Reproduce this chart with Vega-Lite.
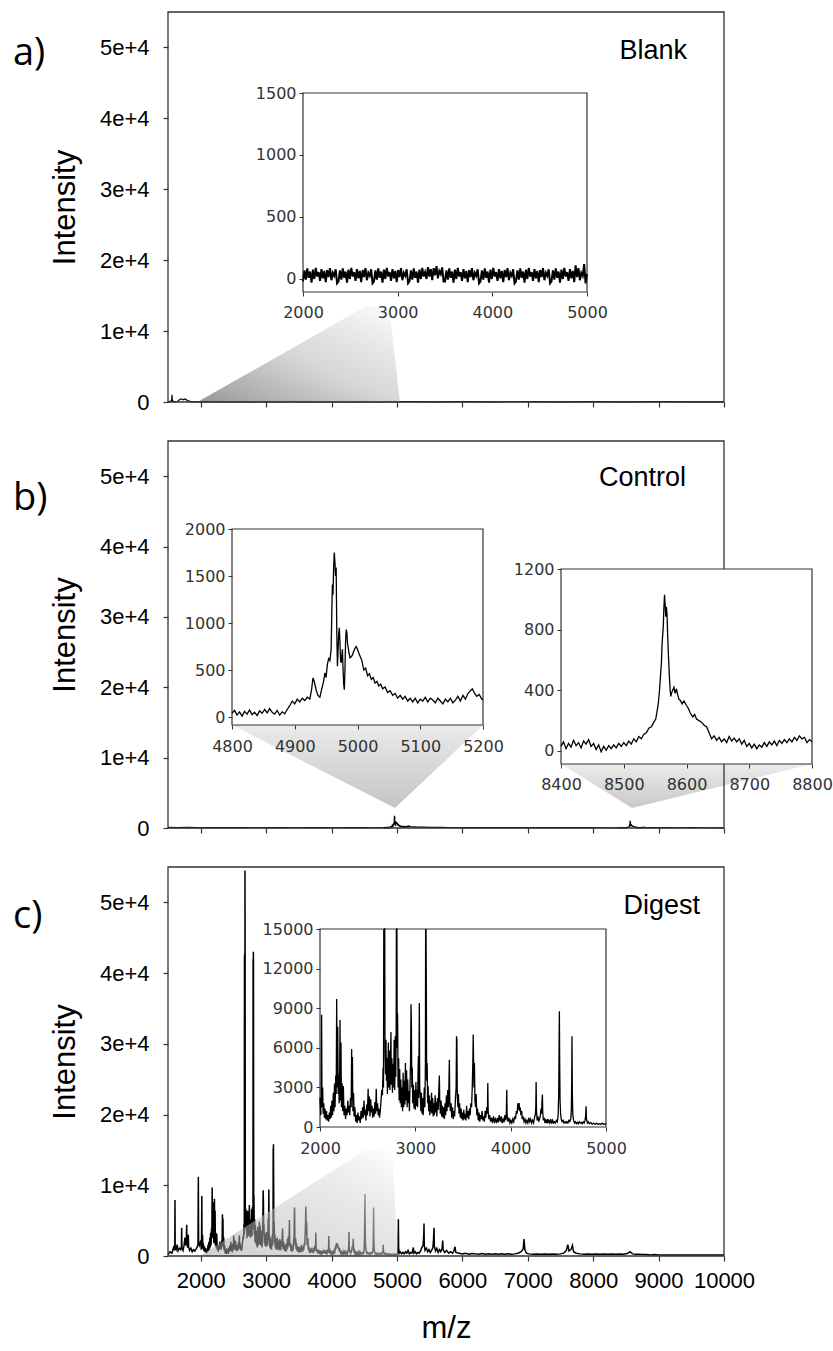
{
"$schema":"https://vega.github.io/schema/vega-lite/v6.json",
"width":556,"height":1244,
"autosize":{"type":"none"},
"padding":{"left":168,"top":12,"right":109,"bottom":95},
"background":"white",
"config":{"view":{"stroke":null},"axis":{"grid":false,"labelFlush":false,"labelOverlap":false}},
"datasets":{
"blank":[{"m":1500,"i":0},{"m":1530,"i":80},{"m":1555,"i":150},{"m":1561,"i":1000},{"m":1567,"i":150},{"m":1600,"i":60},{"m":1650,"i":100},{"m":1680,"i":350},{"m":1700,"i":450},{"m":1730,"i":300},{"m":1760,"i":420},{"m":1800,"i":200},{"m":1840,"i":100},{"m":1900,"i":50},{"m":1950,"i":30},
{"m":2000,"i":-20},{"m":2015,"i":70},{"m":2030,"i":-5},{"m":2045,"i":85},{"m":2060,"i":10},{"m":2075,"i":60},{"m":2090,"i":-30},{"m":2105,"i":75},{"m":2120,"i":0},{"m":2135,"i":90},{"m":2150,"i":20},{"m":2165,"i":55},{"m":2180,"i":-15},{"m":2195,"i":80},{"m":2210,"i":5},{"m":2225,"i":65},{"m":2240,"i":-25},{"m":2255,"i":72},{"m":2270,"i":15},{"m":2285,"i":88},{"m":2300,"i":-10},{"m":2315,"i":50},{"m":2330,"i":25},{"m":2345,"i":78},{"m":2360,"i":-35},
{"m":2375,"i":-20},{"m":2390,"i":70},{"m":2405,"i":-5},{"m":2420,"i":85},{"m":2435,"i":10},{"m":2450,"i":60},{"m":2465,"i":-30},{"m":2480,"i":75},{"m":2495,"i":0},{"m":2510,"i":90},{"m":2525,"i":20},{"m":2540,"i":55},{"m":2555,"i":-15},{"m":2570,"i":80},{"m":2585,"i":5},{"m":2600,"i":65},{"m":2615,"i":-25},{"m":2630,"i":72},{"m":2645,"i":15},{"m":2660,"i":88},{"m":2675,"i":-10},{"m":2690,"i":50},{"m":2705,"i":25},{"m":2720,"i":78},{"m":2735,"i":-35},
{"m":2750,"i":-20},{"m":2765,"i":70},{"m":2780,"i":-5},{"m":2795,"i":85},{"m":2810,"i":10},{"m":2825,"i":60},{"m":2840,"i":-30},{"m":2855,"i":75},{"m":2870,"i":0},{"m":2885,"i":90},{"m":2900,"i":20},{"m":2915,"i":55},{"m":2930,"i":-15},{"m":2945,"i":80},{"m":2960,"i":5},{"m":2975,"i":65},{"m":2990,"i":-25},{"m":3005,"i":72},{"m":3020,"i":15},{"m":3035,"i":88},{"m":3050,"i":-10},{"m":3065,"i":50},{"m":3080,"i":25},{"m":3095,"i":78},{"m":3110,"i":-35},
{"m":3125,"i":-20},{"m":3140,"i":70},{"m":3155,"i":-5},{"m":3170,"i":85},{"m":3185,"i":10},{"m":3200,"i":60},{"m":3215,"i":-30},{"m":3230,"i":75},{"m":3245,"i":0},{"m":3260,"i":90},{"m":3275,"i":20},{"m":3290,"i":55},{"m":3305,"i":0},{"m":3320,"i":95},{"m":3335,"i":20},{"m":3350,"i":80},{"m":3365,"i":-10},{"m":3380,"i":87},{"m":3395,"i":30},{"m":3410,"i":103},{"m":3425,"i":5},{"m":3440,"i":65},{"m":3455,"i":40},{"m":3470,"i":93},{"m":3485,"i":-20},
{"m":3500,"i":-20},{"m":3515,"i":70},{"m":3530,"i":-5},{"m":3545,"i":85},{"m":3560,"i":10},{"m":3575,"i":60},{"m":3590,"i":-30},{"m":3605,"i":75},{"m":3620,"i":0},{"m":3635,"i":90},{"m":3650,"i":20},{"m":3665,"i":55},{"m":3680,"i":-15},{"m":3695,"i":80},{"m":3710,"i":5},{"m":3725,"i":65},{"m":3740,"i":-25},{"m":3755,"i":72},{"m":3770,"i":15},{"m":3785,"i":88},{"m":3800,"i":-10},{"m":3815,"i":50},{"m":3830,"i":25},{"m":3845,"i":78},{"m":3860,"i":-35},
{"m":3875,"i":-20},{"m":3890,"i":70},{"m":3905,"i":-5},{"m":3920,"i":85},{"m":3935,"i":10},{"m":3950,"i":60},{"m":3965,"i":-30},{"m":3980,"i":75},{"m":3995,"i":0},{"m":4010,"i":90},{"m":4025,"i":20},{"m":4040,"i":55},{"m":4055,"i":-15},{"m":4070,"i":80},{"m":4085,"i":5},{"m":4100,"i":65},{"m":4115,"i":-25},{"m":4130,"i":72},{"m":4145,"i":15},{"m":4160,"i":88},{"m":4175,"i":-10},{"m":4190,"i":50},{"m":4205,"i":25},{"m":4220,"i":78},{"m":4235,"i":-35},
{"m":4250,"i":-20},{"m":4265,"i":70},{"m":4280,"i":-5},{"m":4295,"i":85},{"m":4310,"i":10},{"m":4325,"i":60},{"m":4340,"i":-30},{"m":4355,"i":75},{"m":4370,"i":0},{"m":4385,"i":90},{"m":4400,"i":20},{"m":4415,"i":55},{"m":4430,"i":-15},{"m":4445,"i":80},{"m":4460,"i":5},{"m":4475,"i":65},{"m":4490,"i":-25},{"m":4505,"i":72},{"m":4520,"i":15},{"m":4535,"i":88},{"m":4550,"i":-10},{"m":4565,"i":50},{"m":4580,"i":25},{"m":4595,"i":78},{"m":4610,"i":-35},
{"m":4625,"i":-20},{"m":4640,"i":70},{"m":4655,"i":-5},{"m":4670,"i":85},{"m":4685,"i":10},{"m":4700,"i":60},{"m":4715,"i":-30},{"m":4730,"i":75},{"m":4745,"i":0},{"m":4760,"i":90},{"m":4775,"i":20},{"m":4790,"i":55},{"m":4805,"i":-15},{"m":4820,"i":80},{"m":4835,"i":5},{"m":4850,"i":65},{"m":4865,"i":-25},{"m":4880,"i":110},{"m":4895,"i":15},{"m":4910,"i":88},{"m":4925,"i":-10},{"m":4940,"i":50},{"m":4955,"i":25},{"m":4970,"i":120},{"m":4985,"i":-35},{"m":5000,"i":40},
{"m":5200,"i":40},{"m":5600,"i":30},{"m":6000,"i":50},{"m":6500,"i":30},{"m":7000,"i":40},{"m":7500,"i":30},{"m":8000,"i":40},{"m":8500,"i":30},{"m":9000,"i":40},{"m":9500,"i":30},{"m":10000,"i":30}],
"control":[{"m":1500,"i":100},{"m":1650,"i":60},{"m":1800,"i":80},{"m":1950,"i":50},{"m":2100,"i":70},{"m":2250,"i":40},{"m":2400,"i":60},{"m":2550,"i":40},{"m":2700,"i":55},{"m":2850,"i":35},{"m":3000,"i":50},{"m":3150,"i":40},{"m":3300,"i":55},{"m":3450,"i":35},{"m":3600,"i":50},{"m":3750,"i":40},{"m":3900,"i":45},{"m":4050,"i":35},{"m":4200,"i":50},{"m":4350,"i":40},{"m":4500,"i":45},{"m":4650,"i":35},{"m":4790,"i":40},
{"m":4800,"i":40},{"m":4804,"i":70},{"m":4808,"i":20},{"m":4812,"i":55},{"m":4816,"i":10},{"m":4820,"i":60},{"m":4824,"i":30},{"m":4828,"i":75},{"m":4832,"i":25},{"m":4836,"i":50},{"m":4840,"i":15},{"m":4844,"i":65},{"m":4848,"i":40},{"m":4852,"i":80},{"m":4856,"i":45},{"m":4860,"i":90},{"m":4864,"i":50},{"m":4868,"i":30},{"m":4872,"i":70},{"m":4876,"i":20},{"m":4880,"i":55},{"m":4884,"i":35},{"m":4888,"i":80},{"m":4892,"i":120},{"m":4896,"i":170},{"m":4900,"i":140},{"m":4904,"i":190},{"m":4908,"i":160},{"m":4912,"i":200},{"m":4916,"i":175},{"m":4920,"i":210},{"m":4924,"i":190},{"m":4927,"i":300},{"m":4929,"i":415},{"m":4931,"i":380},{"m":4934,"i":290},{"m":4937,"i":230},{"m":4940,"i":210},{"m":4943,"i":300},{"m":4946,"i":380},{"m":4948,"i":470},{"m":4950,"i":420},{"m":4952,"i":560},{"m":4954,"i":620},{"m":4956,"i":600},{"m":4958,"i":720},{"m":4959,"i":1100},{"m":4960,"i":1410},{"m":4961,"i":1300},{"m":4962,"i":1600},{"m":4963,"i":1750},{"m":4964,"i":1650},{"m":4965,"i":1500},{"m":4966,"i":1590},{"m":4967,"i":900},{"m":4968,"i":540},{"m":4969,"i":700},{"m":4970,"i":880},{"m":4971,"i":950},{"m":4972,"i":800},{"m":4973,"i":600},{"m":4974,"i":575},{"m":4975,"i":650},{"m":4976,"i":720},{"m":4977,"i":500},{"m":4978,"i":350},{"m":4979,"i":290},{"m":4980,"i":500},{"m":4981,"i":800},{"m":4982,"i":930},{"m":4983,"i":900},{"m":4984,"i":790},{"m":4986,"i":700},{"m":4988,"i":630},{"m":4990,"i":640},{"m":4992,"i":660},{"m":4994,"i":700},{"m":4996,"i":730},{"m":4998,"i":750},{"m":5000,"i":720},{"m":5002,"i":680},{"m":5004,"i":650},{"m":5007,"i":600},{"m":5010,"i":500},{"m":5013,"i":520},{"m":5016,"i":440},{"m":5019,"i":460},{"m":5022,"i":400},{"m":5025,"i":420},{"m":5028,"i":360},{"m":5031,"i":380},{"m":5034,"i":330},{"m":5037,"i":350},{"m":5040,"i":300},{"m":5044,"i":320},{"m":5048,"i":260},{"m":5052,"i":280},{"m":5056,"i":230},{"m":5060,"i":250},{"m":5064,"i":200},{"m":5068,"i":230},{"m":5072,"i":190},{"m":5076,"i":220},{"m":5080,"i":170},{"m":5084,"i":200},{"m":5088,"i":160},{"m":5092,"i":200},{"m":5096,"i":150},{"m":5100,"i":190},{"m":5104,"i":170},{"m":5108,"i":210},{"m":5112,"i":160},{"m":5116,"i":200},{"m":5120,"i":180},{"m":5124,"i":150},{"m":5128,"i":200},{"m":5132,"i":170},{"m":5136,"i":140},{"m":5140,"i":190},{"m":5144,"i":160},{"m":5148,"i":200},{"m":5152,"i":150},{"m":5156,"i":180},{"m":5160,"i":220},{"m":5164,"i":170},{"m":5168,"i":230},{"m":5172,"i":190},{"m":5176,"i":250},{"m":5180,"i":280},{"m":5183,"i":300},{"m":5186,"i":260},{"m":5190,"i":220},{"m":5194,"i":240},{"m":5198,"i":190},{"m":5200,"i":185},
{"m":5250,"i":180},{"m":5300,"i":150},{"m":5400,"i":120},{"m":5500,"i":100},{"m":5650,"i":80},{"m":5800,"i":70},{"m":6000,"i":60},{"m":6200,"i":50},{"m":6400,"i":45},{"m":6600,"i":50},{"m":6800,"i":40},{"m":7000,"i":45},{"m":7200,"i":40},{"m":7400,"i":50},{"m":7600,"i":40},{"m":7800,"i":45},{"m":8000,"i":40},{"m":8200,"i":35},{"m":8390,"i":30},
{"m":8400,"i":30},{"m":8404,"i":60},{"m":8408,"i":15},{"m":8412,"i":50},{"m":8416,"i":25},{"m":8420,"i":70},{"m":8424,"i":35},{"m":8428,"i":55},{"m":8432,"i":20},{"m":8436,"i":65},{"m":8440,"i":45},{"m":8444,"i":75},{"m":8448,"i":30},{"m":8452,"i":50},{"m":8456,"i":10},{"m":8460,"i":40},{"m":8464,"i":-5},{"m":8468,"i":30},{"m":8472,"i":5},{"m":8476,"i":35},{"m":8480,"i":15},{"m":8484,"i":40},{"m":8488,"i":20},{"m":8492,"i":50},{"m":8496,"i":30},{"m":8500,"i":55},{"m":8504,"i":35},{"m":8508,"i":65},{"m":8512,"i":45},{"m":8516,"i":80},{"m":8520,"i":60},{"m":8524,"i":95},{"m":8528,"i":80},{"m":8532,"i":110},{"m":8536,"i":120},{"m":8540,"i":150},{"m":8544,"i":160},{"m":8548,"i":190},{"m":8551,"i":210},{"m":8553,"i":260},{"m":8555,"i":310},{"m":8557,"i":400},{"m":8559,"i":520},{"m":8560,"i":580},{"m":8561,"i":700},{"m":8562,"i":760},{"m":8563,"i":820},{"m":8564,"i":950},{"m":8565,"i":1030},{"m":8566,"i":960},{"m":8567,"i":885},{"m":8568,"i":950},{"m":8569,"i":900},{"m":8570,"i":760},{"m":8571,"i":650},{"m":8572,"i":560},{"m":8573,"i":470},{"m":8574,"i":400},{"m":8575,"i":360},{"m":8576,"i":380},{"m":8578,"i":400},{"m":8580,"i":420},{"m":8582,"i":380},{"m":8584,"i":410},{"m":8586,"i":370},{"m":8588,"i":340},{"m":8590,"i":335},{"m":8593,"i":310},{"m":8596,"i":330},{"m":8600,"i":300},{"m":8603,"i":280},{"m":8606,"i":250},{"m":8610,"i":225},{"m":8613,"i":240},{"m":8616,"i":210},{"m":8620,"i":200},{"m":8624,"i":190},{"m":8628,"i":170},{"m":8632,"i":160},{"m":8636,"i":120},{"m":8640,"i":80},{"m":8644,"i":100},{"m":8648,"i":70},{"m":8652,"i":90},{"m":8656,"i":60},{"m":8660,"i":80},{"m":8664,"i":55},{"m":8668,"i":95},{"m":8672,"i":65},{"m":8676,"i":85},{"m":8680,"i":60},{"m":8684,"i":80},{"m":8688,"i":45},{"m":8692,"i":70},{"m":8696,"i":30},{"m":8700,"i":50},{"m":8704,"i":20},{"m":8708,"i":45},{"m":8712,"i":15},{"m":8716,"i":40},{"m":8720,"i":25},{"m":8724,"i":55},{"m":8728,"i":30},{"m":8732,"i":60},{"m":8736,"i":40},{"m":8740,"i":65},{"m":8744,"i":35},{"m":8748,"i":70},{"m":8752,"i":50},{"m":8756,"i":75},{"m":8760,"i":55},{"m":8764,"i":80},{"m":8768,"i":60},{"m":8772,"i":90},{"m":8776,"i":70},{"m":8780,"i":100},{"m":8784,"i":80},{"m":8788,"i":90},{"m":8792,"i":55},{"m":8796,"i":75},{"m":8800,"i":60},
{"m":8850,"i":50},{"m":8950,"i":40},{"m":9100,"i":45},{"m":9300,"i":35},{"m":9500,"i":40},{"m":9700,"i":35},{"m":10000,"i":30}],
"digest":[{"m":1500,"i":200},{"m":1530,"i":600},{"m":1560,"i":400},{"m":1585,"i":1200},{"m":1600,"i":800},{"m":1604,"i":1500},{"m":1607,"i":7900},{"m":1610,"i":1200},{"m":1625,"i":900},{"m":1640,"i":1600},{"m":1655,"i":700},{"m":1675,"i":1100},{"m":1695,"i":900},{"m":1705,"i":1400},{"m":1709,"i":4000},{"m":1713,"i":1200},{"m":1730,"i":800},{"m":1745,"i":1500},{"m":1760,"i":2600},{"m":1770,"i":1500},{"m":1780,"i":2200},{"m":1786,"i":4400},{"m":1790,"i":1800},{"m":1800,"i":1200},{"m":1808,"i":2000},{"m":1811,"i":3000},{"m":1815,"i":1300},{"m":1830,"i":800},{"m":1850,"i":1100},{"m":1870,"i":600},{"m":1890,"i":900},{"m":1910,"i":700},{"m":1930,"i":1000},{"m":1945,"i":1200},{"m":1958,"i":1600},{"m":1964,"i":11200},{"m":1968,"i":2000},{"m":1980,"i":1500},{"m":1992,"i":1800},
{"m":2000,"i":2200},{"m":2008,"i":900},{"m":2013,"i":2500},{"m":2017,"i":8500},{"m":2021,"i":1500},{"m":2028,"i":3000},{"m":2033,"i":1000},{"m":2040,"i":1800},{"m":2046,"i":700},{"m":2052,"i":1400},{"m":2060,"i":600},{"m":2068,"i":1200},{"m":2075,"i":500},{"m":2082,"i":900},{"m":2090,"i":400},{"m":2098,"i":1100},{"m":2105,"i":600},{"m":2112,"i":1600},{"m":2118,"i":700},{"m":2125,"i":2000},{"m":2132,"i":900},{"m":2140,"i":2600},{"m":2146,"i":1200},{"m":2152,"i":3300},{"m":2158,"i":1500},{"m":2165,"i":3900},{"m":2170,"i":2500},{"m":2175,"i":9700},{"m":2180,"i":3000},{"m":2186,"i":7600},{"m":2191,"i":2500},{"m":2196,"i":4000},{"m":2201,"i":1800},{"m":2206,"i":3600},{"m":2210,"i":8100},{"m":2215,"i":2000},{"m":2220,"i":6400},{"m":2225,"i":1500},{"m":2232,"i":3300},{"m":2238,"i":1200},{"m":2245,"i":3100},{"m":2252,"i":900},{"m":2260,"i":1600},{"m":2268,"i":600},{"m":2276,"i":1400},{"m":2284,"i":900},{"m":2292,"i":2000},{"m":2298,"i":1100},{"m":2305,"i":1600},{"m":2312,"i":900},{"m":2320,"i":2200},{"m":2327,"i":1500},{"m":2332,"i":5900},{"m":2336,"i":2000},{"m":2340,"i":5300},{"m":2345,"i":1200},{"m":2352,"i":2600},{"m":2358,"i":800},{"m":2366,"i":1500},{"m":2374,"i":400},{"m":2382,"i":900},{"m":2390,"i":300},{"m":2398,"i":1100},{"m":2406,"i":500},{"m":2414,"i":800},{"m":2422,"i":300},{"m":2430,"i":1200},{"m":2438,"i":600},{"m":2446,"i":1500},{"m":2454,"i":700},{"m":2462,"i":2000},{"m":2468,"i":900},{"m":2475,"i":1300},{"m":2482,"i":500},{"m":2490,"i":1700},{"m":2497,"i":900},{"m":2505,"i":2900},{"m":2510,"i":1200},{"m":2518,"i":2300},{"m":2524,"i":800},{"m":2532,"i":2100},{"m":2538,"i":1100},{"m":2546,"i":1600},{"m":2552,"i":700},{"m":2560,"i":1400},{"m":2568,"i":800},{"m":2576,"i":1900},{"m":2583,"i":1000},{"m":2590,"i":2900},{"m":2596,"i":1200},{"m":2604,"i":1800},{"m":2610,"i":900},{"m":2618,"i":1400},{"m":2624,"i":700},{"m":2632,"i":1200},{"m":2640,"i":2000},{"m":2648,"i":2800},{"m":2655,"i":2400},{"m":2662,"i":4500},{"m":2666,"i":3000},{"m":2669,"i":42500},{"m":2671,"i":9000},{"m":2673,"i":42800},{"m":2675,"i":12000},{"m":2677,"i":54500},{"m":2679,"i":42500},{"m":2682,"i":5500},{"m":2687,"i":4000},{"m":2692,"i":6600},{"m":2697,"i":3500},{"m":2702,"i":5200},{"m":2707,"i":2500},{"m":2712,"i":4200},{"m":2717,"i":6400},{"m":2722,"i":3000},{"m":2728,"i":5800},{"m":2733,"i":2800},{"m":2738,"i":4600},{"m":2744,"i":7200},{"m":2748,"i":3200},{"m":2754,"i":5200},{"m":2760,"i":2600},{"m":2766,"i":4800},{"m":2772,"i":3000},{"m":2778,"i":6600},{"m":2784,"i":2800},{"m":2790,"i":6900},{"m":2795,"i":3800},{"m":2799,"i":7200},{"m":2801,"i":42000},{"m":2803,"i":9000},{"m":2805,"i":43000},{"m":2807,"i":41500},{"m":2810,"i":6000},{"m":2814,"i":8600},{"m":2819,"i":3000},{"m":2825,"i":5200},{"m":2830,"i":2000},{"m":2836,"i":4400},{"m":2842,"i":1800},{"m":2848,"i":3600},{"m":2854,"i":1500},{"m":2860,"i":3000},{"m":2866,"i":1200},{"m":2872,"i":4100},{"m":2878,"i":1500},{"m":2884,"i":3500},{"m":2890,"i":1700},{"m":2896,"i":4850},{"m":2902,"i":2000},{"m":2908,"i":4300},{"m":2914,"i":1500},{"m":2920,"i":3600},{"m":2926,"i":1800},{"m":2932,"i":2700},{"m":2938,"i":1200},{"m":2944,"i":3100},{"m":2950,"i":5000},{"m":2955,"i":9300},{"m":2959,"i":7600},{"m":2963,"i":3000},{"m":2968,"i":4500},{"m":2973,"i":1800},{"m":2980,"i":3200},{"m":2986,"i":1400},{"m":2993,"i":2800},{"m":3000,"i":1300},{"m":3006,"i":3400},{"m":3012,"i":1600},{"m":3018,"i":2800},{"m":3024,"i":1500},{"m":3028,"i":4000},{"m":3032,"i":5350},{"m":3036,"i":2200},{"m":3042,"i":9400},{"m":3046,"i":3000},{"m":3052,"i":2400},{"m":3058,"i":1200},{"m":3064,"i":2600},{"m":3070,"i":1000},{"m":3076,"i":2200},{"m":3082,"i":900},{"m":3088,"i":1800},{"m":3094,"i":3000},{"m":3100,"i":1500},{"m":3106,"i":5000},{"m":3108,"i":15200},{"m":3110,"i":11500},{"m":3112,"i":15800},{"m":3115,"i":11000},{"m":3119,"i":3500},{"m":3124,"i":4850},{"m":3129,"i":1800},{"m":3134,"i":3080},{"m":3140,"i":1200},{"m":3146,"i":2400},{"m":3152,"i":900},{"m":3158,"i":2000},{"m":3164,"i":1100},{"m":3170,"i":2600},{"m":3176,"i":1000},{"m":3182,"i":2200},{"m":3188,"i":800},{"m":3194,"i":1800},{"m":3200,"i":900},{"m":3208,"i":2400},{"m":3214,"i":1100},{"m":3220,"i":1900},{"m":3226,"i":800},{"m":3232,"i":2200},{"m":3240,"i":1300},{"m":3246,"i":2800},{"m":3252,"i":3900},{"m":3256,"i":2070},{"m":3262,"i":1000},{"m":3270,"i":2000},{"m":3276,"i":800},{"m":3284,"i":1600},{"m":3290,"i":700},{"m":3298,"i":1500},{"m":3305,"i":600},{"m":3312,"i":1800},{"m":3318,"i":900},{"m":3326,"i":2400},{"m":3332,"i":1200},{"m":3340,"i":2800},{"m":3348,"i":1500},{"m":3353,"i":3500},{"m":3357,"i":5100},{"m":3361,"i":2000},{"m":3368,"i":1200},{"m":3375,"i":1800},{"m":3382,"i":700},{"m":3390,"i":1500},{"m":3398,"i":600},{"m":3405,"i":1200},{"m":3412,"i":800},{"m":3420,"i":2000},{"m":3428,"i":3000},{"m":3432,"i":6870},{"m":3436,"i":6600},{"m":3440,"i":2500},{"m":3446,"i":1500},{"m":3452,"i":2500},{"m":3458,"i":1000},{"m":3465,"i":1800},{"m":3472,"i":700},{"m":3480,"i":1400},{"m":3487,"i":600},{"m":3494,"i":1100},{"m":3500,"i":500},{"m":3508,"i":1300},{"m":3515,"i":600},{"m":3522,"i":1000},{"m":3530,"i":500},{"m":3538,"i":1600},{"m":3545,"i":700},{"m":3552,"i":1200},{"m":3560,"i":600},{"m":3568,"i":1400},{"m":3575,"i":900},{"m":3582,"i":1800},{"m":3590,"i":1500},{"m":3597,"i":3000},{"m":3603,"i":4800},{"m":3607,"i":7000},{"m":3611,"i":5100},{"m":3615,"i":3000},{"m":3620,"i":4850},{"m":3625,"i":2000},{"m":3632,"i":1500},{"m":3638,"i":2500},{"m":3645,"i":900},{"m":3652,"i":1400},{"m":3660,"i":500},{"m":3668,"i":1100},{"m":3676,"i":400},{"m":3684,"i":900},{"m":3692,"i":600},{"m":3700,"i":1200},{"m":3708,"i":500},{"m":3716,"i":800},{"m":3724,"i":400},{"m":3732,"i":1200},{"m":3740,"i":700},{"m":3748,"i":1500},{"m":3756,"i":1000},{"m":3760,"i":3330},{"m":3764,"i":1200},{"m":3772,"i":600},{"m":3780,"i":900},{"m":3790,"i":400},{"m":3800,"i":700},{"m":3810,"i":300},{"m":3820,"i":800},{"m":3830,"i":400},{"m":3840,"i":600},{"m":3850,"i":300},{"m":3860,"i":700},{"m":3870,"i":350},{"m":3880,"i":900},{"m":3890,"i":400},{"m":3900,"i":800},{"m":3910,"i":300},{"m":3920,"i":600},{"m":3930,"i":350},{"m":3940,"i":900},{"m":3950,"i":500},{"m":3955,"i":1200},{"m":3959,"i":2830},{"m":3963,"i":900},{"m":3972,"i":400},{"m":3982,"i":700},{"m":3992,"i":300},{"m":4002,"i":500},{"m":4012,"i":300},{"m":4022,"i":600},{"m":4032,"i":400},{"m":4042,"i":800},{"m":4050,"i":600},{"m":4060,"i":1200},{"m":4068,"i":1000},{"m":4075,"i":1800},{"m":4082,"i":1300},{"m":4088,"i":1820},{"m":4094,"i":1200},{"m":4100,"i":1500},{"m":4108,"i":900},{"m":4115,"i":1200},{"m":4122,"i":600},{"m":4130,"i":800},{"m":4140,"i":400},{"m":4150,"i":600},{"m":4160,"i":300},{"m":4170,"i":500},{"m":4180,"i":300},{"m":4190,"i":700},{"m":4200,"i":400},{"m":4210,"i":600},{"m":4220,"i":300},{"m":4230,"i":500},{"m":4240,"i":300},{"m":4250,"i":700},{"m":4260,"i":1000},{"m":4264,"i":1600},{"m":4267,"i":3400},{"m":4271,"i":1200},{"m":4278,"i":500},{"m":4286,"i":800},{"m":4294,"i":400},{"m":4302,"i":600},{"m":4310,"i":800},{"m":4318,"i":1400},{"m":4324,"i":1000},{"m":4328,"i":1800},{"m":4333,"i":2450},{"m":4337,"i":1000},{"m":4344,"i":500},{"m":4352,"i":700},{"m":4360,"i":300},{"m":4368,"i":500},{"m":4376,"i":300},{"m":4384,"i":600},{"m":4392,"i":300},{"m":4400,"i":500},{"m":4410,"i":300},{"m":4420,"i":600},{"m":4430,"i":250},{"m":4440,"i":500},{"m":4450,"i":300},{"m":4460,"i":400},{"m":4470,"i":300},{"m":4480,"i":500},{"m":4490,"i":400},{"m":4498,"i":900},{"m":4504,"i":2500},{"m":4508,"i":6360},{"m":4511,"i":8760},{"m":4514,"i":5000},{"m":4518,"i":2000},{"m":4524,"i":1000},{"m":4530,"i":600},{"m":4540,"i":400},{"m":4550,"i":500},{"m":4560,"i":300},{"m":4570,"i":400},{"m":4580,"i":300},{"m":4590,"i":400},{"m":4600,"i":300},{"m":4610,"i":500},{"m":4620,"i":400},{"m":4630,"i":600},{"m":4636,"i":1200},{"m":4640,"i":3200},{"m":4643,"i":6870},{"m":4647,"i":2500},{"m":4652,"i":900},{"m":4660,"i":500},{"m":4670,"i":300},{"m":4680,"i":400},{"m":4690,"i":250},{"m":4700,"i":350},{"m":4710,"i":250},{"m":4720,"i":400},{"m":4730,"i":300},{"m":4740,"i":350},{"m":4750,"i":250},{"m":4760,"i":400},{"m":4770,"i":300},{"m":4780,"i":500},{"m":4787,"i":900},{"m":4791,"i":1570},{"m":4795,"i":600},{"m":4805,"i":300},{"m":4815,"i":400},{"m":4825,"i":250},{"m":4840,"i":350},{"m":4855,"i":200},{"m":4870,"i":300},{"m":4885,"i":200},{"m":4900,"i":300},{"m":4915,"i":200},{"m":4930,"i":250},{"m":4945,"i":200},{"m":4960,"i":300},{"m":4975,"i":200},{"m":4990,"i":250},{"m":5000,"i":200},
{"m":5010,"i":300},{"m":5018,"i":1500},{"m":5022,"i":5200},{"m":5026,"i":1200},{"m":5035,"i":400},{"m":5050,"i":600},{"m":5070,"i":300},{"m":5090,"i":500},{"m":5110,"i":300},{"m":5130,"i":600},{"m":5150,"i":400},{"m":5170,"i":800},{"m":5190,"i":300},{"m":5210,"i":500},{"m":5230,"i":400},{"m":5251,"i":1200},{"m":5260,"i":400},{"m":5280,"i":600},{"m":5300,"i":300},{"m":5320,"i":500},{"m":5340,"i":400},{"m":5360,"i":700},{"m":5380,"i":1200},{"m":5400,"i":1500},{"m":5410,"i":3000},{"m":5414,"i":4600},{"m":5418,"i":1500},{"m":5430,"i":800},{"m":5450,"i":1100},{"m":5470,"i":600},{"m":5490,"i":900},{"m":5510,"i":500},{"m":5530,"i":800},{"m":5550,"i":1200},{"m":5560,"i":2500},{"m":5567,"i":4000},{"m":5572,"i":1400},{"m":5590,"i":700},{"m":5610,"i":1100},{"m":5630,"i":500},{"m":5650,"i":900},{"m":5670,"i":600},{"m":5690,"i":1000},{"m":5700,"i":2200},{"m":5706,"i":900},{"m":5730,"i":500},{"m":5760,"i":800},{"m":5790,"i":400},{"m":5820,"i":600},{"m":5850,"i":400},{"m":5870,"i":700},{"m":5888,"i":1300},{"m":5900,"i":500},{"m":5950,"i":400},{"m":6000,"i":300},{"m":6050,"i":400},{"m":6100,"i":250},{"m":6150,"i":350},{"m":6200,"i":300},{"m":6250,"i":250},{"m":6300,"i":350},{"m":6350,"i":250},{"m":6400,"i":300},{"m":6450,"i":250},{"m":6500,"i":300},{"m":6550,"i":250},{"m":6600,"i":300},{"m":6650,"i":250},{"m":6700,"i":300},{"m":6750,"i":250},{"m":6800,"i":300},{"m":6850,"i":400},{"m":6900,"i":600},{"m":6930,"i":1000},{"m":6943,"i":2400},{"m":6955,"i":900},{"m":6980,"i":400},{"m":7020,"i":300},{"m":7080,"i":250},{"m":7140,"i":300},{"m":7200,"i":250},{"m":7260,"i":300},{"m":7320,"i":250},{"m":7380,"i":300},{"m":7440,"i":250},{"m":7500,"i":300},{"m":7550,"i":400},{"m":7590,"i":800},{"m":7612,"i":1600},{"m":7630,"i":700},{"m":7660,"i":900},{"m":7683,"i":1500},{"m":7700,"i":600},{"m":7740,"i":400},{"m":7800,"i":300},{"m":7860,"i":250},{"m":7920,"i":300},{"m":7980,"i":250},{"m":8040,"i":300},{"m":8100,"i":250},{"m":8160,"i":300},{"m":8220,"i":250},{"m":8280,"i":300},{"m":8340,"i":250},{"m":8400,"i":300},{"m":8460,"i":250},{"m":8520,"i":350},{"m":8564,"i":600},{"m":8600,"i":300},{"m":8650,"i":250},{"m":8700,"i":250},{"m":8760,"i":200},{"m":8820,"i":200},{"m":8880,"i":150},{"m":8940,"i":200},{"m":9000,"i":150},{"m":9100,"i":150},{"m":9200,"i":150},{"m":9300,"i":150},{"m":9400,"i":150},{"m":9500,"i":150},{"m":9600,"i":150},{"m":9700,"i":150},{"m":9800,"i":150},{"m":9900,"i":150},{"m":10000,"i":150}],
"triA":[{"m":1950,"i":0},{"m":4540,"i":13560},{"m":4880,"i":13560},{"m":5045,"i":0}],
"triC":[{"m":1989,"i":0},{"m":4512,"i":14990},{"m":4925,"i":14990},{"m":5016,"i":0}],
"triB1":[{"m":2478,"i":14630,"i2":14630},{"m":4970,"i":14630,"i2":2842},{"m":6316,"i":14630,"i2":14630}],
"triB2":[{"m":7508,"i":9096,"i2":9096},{"m":8594,"i":9096,"i2":2842},{"m":11345,"i":9096,"i2":9096}]
},
"layer":[
{"data":{"name":"blank"},"mark":{"type":"line","color":"#000","strokeWidth":1.2},
 "encoding":{"x":{"field":"m","type":"quantitative","scale":{"domain":[1500,10000],"range":[0,556],"nice":false,"zero":false},"axis":{"orient":"bottom","offset":-854,"values":[2000,3000,4000,5000,6000,7000,8000,9000,10000],"labels":false,"domain":false,"tickSize":5,"tickColor":"#333","tickWidth":1.2,"title":null}},
  "y":{"field":"i","type":"quantitative","scale":{"domain":[0,55000],"range":[390,0],"nice":false,"zero":false},"axis":{"orient":"left","values":[0,10000,20000,30000,40000,50000],"labelExpr":"datum.value == 0 ? '0' : format(datum.value, '.0e')","domain":false,"tickSize":5,"tickColor":"#333","tickWidth":1.2,"labelFont":"Liberation Sans","labelFontSize":22,"labelColor":"#000","labelPadding":14,"title":"Intensity","titleFont":"Liberation Sans","titleFontSize":31,"titleFontWeight":"normal","titleColor":"#000","titlePadding":18}}}},
{"data":{"name":"triA"},"mark":{"type":"area","stroke":null,"fill":{"gradient":"linear","x1":0,"y1":1,"x2":1,"y2":0,"stops":[{"offset":0,"color":"rgba(125,125,125,0.8)"},{"offset":0.5,"color":"rgba(200,200,200,0.7)"},{"offset":1,"color":"rgba(255,255,255,0.9)"}]}},
 "encoding":{"x":{"field":"m","type":"quantitative","scale":{"domain":[1500,10000],"range":[0,556],"nice":false,"zero":false},"axis":null},"y":{"field":"i","type":"quantitative","scale":{"domain":[0,55000],"range":[390,0],"nice":false,"zero":false},"axis":null},"y2":{"datum":0}}},
{"data":{"values":[{}]},"mark":{"type":"rect","filled":false,"color":"#333","strokeWidth":1.3},
 "encoding":{"x":{"datum":1500,"type":"quantitative","scale":{"domain":[1500,10000],"range":[0,556],"nice":false,"zero":false},"axis":null},"x2":{"datum":10000},"y":{"datum":0,"type":"quantitative","scale":{"domain":[0,55000],"range":[390,0],"nice":false,"zero":false},"axis":null},"y2":{"datum":55000}}},
{"data":{"values":[{}]},"mark":{"type":"text","text":"Blank","font":"Liberation Sans","fontSize":27,"align":"right","baseline":"alphabetic","color":"#000"},
 "encoding":{"x":{"datum":9434,"type":"quantitative","scale":{"domain":[1500,10000],"range":[0,556],"nice":false,"zero":false},"axis":null},"y":{"datum":48330,"type":"quantitative","scale":{"domain":[0,55000],"range":[390,0],"nice":false,"zero":false},"axis":null}}},
{"data":{"values":[{}]},"mark":{"type":"text","text":"a)","font":"Open Sans","fontSize":38,"align":"left","baseline":"alphabetic","color":"#000"},
 "encoding":{"x":{"datum":-870,"type":"quantitative","scale":{"domain":[1500,10000],"range":[0,556],"nice":false,"zero":false},"axis":null},"y":{"datum":47526,"type":"quantitative","scale":{"domain":[0,55000],"range":[390,0],"nice":false,"zero":false},"axis":null}}},
{"data":{"values":[{}]},"mark":{"type":"rect","fill":"white","stroke":"#333","strokeWidth":1.2},
 "encoding":{"x":{"datum":2000,"type":"quantitative","scale":{"domain":[2000,5000],"range":[135,419],"nice":false,"zero":false},"axis":null},"x2":{"datum":5000},"y":{"datum":-105,"type":"quantitative","scale":{"domain":[-105,1500],"range":[280,81],"nice":false,"zero":false},"axis":null},"y2":{"datum":1500}}},
{"data":{"name":"blank"},"transform":[{"filter":"datum.m >= 2000 && datum.m <= 5000"}],"mark":{"type":"line","color":"#000","strokeWidth":2},
 "encoding":{"x":{"field":"m","type":"quantitative","scale":{"domain":[2000,5000],"range":[135,419],"nice":false,"zero":false},"axis":{"orient":"bottom","offset":-964,"values":[2000,3000,4000,5000],"format":"d","domain":false,"tickSize":4,"tickColor":"#333","labelFont":"DejaVu Sans","labelFontSize":16,"labelColor":"#333","labelPadding":8,"title":null,"zindex":1}},
  "y":{"field":"i","type":"quantitative","scale":{"domain":[-105,1500],"range":[280,81],"nice":false,"zero":false},"axis":{"orient":"left","offset":-135,"values":[0,500,1000,1500],"format":"d","domain":false,"tickSize":4,"tickColor":"#333","labelFont":"DejaVu Sans","labelFontSize":16,"labelColor":"#333","labelPadding":3,"title":null,"zindex":1}}}},

{"data":{"name":"control"},"mark":{"type":"line","color":"#000","strokeWidth":1.2},
 "encoding":{"x":{"field":"m","type":"quantitative","scale":{"domain":[1500,10000],"range":[0,556],"nice":false,"zero":false},"axis":{"orient":"bottom","offset":-428,"values":[2000,3000,4000,5000,6000,7000,8000,9000,10000],"labels":false,"domain":false,"tickSize":5,"tickColor":"#333","tickWidth":1.2,"title":null}},
  "y":{"field":"i","type":"quantitative","scale":{"domain":[0,55000],"range":[816,429],"nice":false,"zero":false},"axis":{"orient":"left","values":[0,10000,20000,30000,40000,50000],"labelExpr":"datum.value == 0 ? '0' : format(datum.value, '.0e')","domain":false,"tickSize":5,"tickColor":"#333","tickWidth":1.2,"labelFont":"Liberation Sans","labelFontSize":22,"labelColor":"#000","labelPadding":14,"title":"Intensity","titleFont":"Liberation Sans","titleFontSize":31,"titleFontWeight":"normal","titleColor":"#000","titlePadding":18}}}},
{"data":{"name":"triB1"},"mark":{"type":"area","stroke":null,"fill":{"gradient":"linear","x1":0,"y1":1,"x2":0,"y2":0,"stops":[{"offset":0,"color":"#c4c4c4"},{"offset":1,"color":"#ebebeb"}]}},
 "encoding":{"x":{"field":"m","type":"quantitative","scale":{"domain":[1500,10000],"range":[0,556],"nice":false,"zero":false},"axis":null},"y":{"field":"i","type":"quantitative","scale":{"domain":[0,55000],"range":[816,429],"nice":false,"zero":false},"axis":null},"y2":{"field":"i2"}}},
{"data":{"name":"triB2"},"mark":{"type":"area","stroke":null,"fill":{"gradient":"linear","x1":0,"y1":1,"x2":0,"y2":0,"stops":[{"offset":0,"color":"#c8c8c8"},{"offset":1,"color":"#ececec"}]}},
 "encoding":{"x":{"field":"m","type":"quantitative","scale":{"domain":[1500,10000],"range":[0,556],"nice":false,"zero":false},"axis":null},"y":{"field":"i","type":"quantitative","scale":{"domain":[0,55000],"range":[816,429],"nice":false,"zero":false},"axis":null},"y2":{"field":"i2"}}},
{"data":{"values":[{}]},"mark":{"type":"rect","filled":false,"color":"#333","strokeWidth":1.3},
 "encoding":{"x":{"datum":1500,"type":"quantitative","scale":{"domain":[1500,10000],"range":[0,556],"nice":false,"zero":false},"axis":null},"x2":{"datum":10000},"y":{"datum":0,"type":"quantitative","scale":{"domain":[0,55000],"range":[816,429],"nice":false,"zero":false},"axis":null},"y2":{"datum":55000}}},
{"data":{"values":[{}]},"mark":{"type":"text","text":"Control","font":"Liberation Sans","fontSize":27,"align":"right","baseline":"alphabetic","color":"#000"},
 "encoding":{"x":{"datum":9419,"type":"quantitative","scale":{"domain":[1500,10000],"range":[0,556],"nice":false,"zero":false},"axis":null},"y":{"datum":48605,"type":"quantitative","scale":{"domain":[0,55000],"range":[816,429],"nice":false,"zero":false},"axis":null}}},
{"data":{"values":[{}]},"mark":{"type":"text","text":"b)","font":"Open Sans","fontSize":38,"align":"left","baseline":"alphabetic","color":"#000"},
 "encoding":{"x":{"datum":-870,"type":"quantitative","scale":{"domain":[1500,10000],"range":[0,556],"nice":false,"zero":false},"axis":null},"y":{"datum":45194,"type":"quantitative","scale":{"domain":[0,55000],"range":[816,429],"nice":false,"zero":false},"axis":null}}},
{"data":{"values":[{}]},"mark":{"type":"rect","fill":"white","stroke":"#333","strokeWidth":1.2},
 "encoding":{"x":{"datum":4800,"type":"quantitative","scale":{"domain":[4800,5200],"range":[64,315],"nice":false,"zero":false},"axis":null},"x2":{"datum":5200},"y":{"datum":-85,"type":"quantitative","scale":{"domain":[-85,2000],"range":[713,517],"nice":false,"zero":false},"axis":null},"y2":{"datum":2000}}},
{"data":{"name":"control"},"transform":[{"filter":"datum.m >= 4800 && datum.m <= 5200"}],"mark":{"type":"line","color":"#000","strokeWidth":1.3},
 "encoding":{"x":{"field":"m","type":"quantitative","scale":{"domain":[4800,5200],"range":[64,315],"nice":false,"zero":false},"axis":{"orient":"bottom","offset":-531,"values":[4800,4900,5000,5100,5200],"format":"d","domain":false,"tickSize":4,"tickColor":"#333","labelFont":"DejaVu Sans","labelFontSize":16,"labelColor":"#333","labelPadding":9,"title":null,"zindex":1}},
  "y":{"field":"i","type":"quantitative","scale":{"domain":[-85,2000],"range":[713,517],"nice":false,"zero":false},"axis":{"orient":"left","offset":-64,"values":[0,500,1000,1500,2000],"format":"d","domain":false,"tickSize":4,"tickColor":"#333","labelFont":"DejaVu Sans","labelFontSize":16,"labelColor":"#333","labelPadding":3,"title":null,"zindex":1}}}},
{"data":{"values":[{}]},"mark":{"type":"rect","fill":"white","stroke":"#333","strokeWidth":1.2},
 "encoding":{"x":{"datum":8400,"type":"quantitative","scale":{"domain":[8400,8800],"range":[393,644],"nice":false,"zero":false},"axis":null},"x2":{"datum":8800},"y":{"datum":-86,"type":"quantitative","scale":{"domain":[-86,1200],"range":[752,557],"nice":false,"zero":false},"axis":null},"y2":{"datum":1200}}},
{"data":{"name":"control"},"transform":[{"filter":"datum.m >= 8400 && datum.m <= 8800"}],"mark":{"type":"line","color":"#000","strokeWidth":1.3},
 "encoding":{"x":{"field":"m","type":"quantitative","scale":{"domain":[8400,8800],"range":[393,644],"nice":false,"zero":false},"axis":{"orient":"bottom","offset":-492,"values":[8400,8500,8600,8700,8800],"format":"d","domain":false,"tickSize":4,"tickColor":"#333","labelFont":"DejaVu Sans","labelFontSize":16,"labelColor":"#333","labelPadding":8,"title":null,"zindex":1}},
  "y":{"field":"i","type":"quantitative","scale":{"domain":[-86,1200],"range":[752,557],"nice":false,"zero":false},"axis":{"orient":"left","offset":-393,"values":[0,400,800,1200],"format":"d","domain":false,"tickSize":4,"tickColor":"#333","labelFont":"DejaVu Sans","labelFontSize":16,"labelColor":"#333","labelPadding":3,"title":null,"zindex":1}}}},

{"data":{"name":"digest"},"mark":{"type":"line","color":"#000","strokeWidth":1.5},
 "encoding":{"x":{"field":"m","type":"quantitative","scale":{"domain":[1500,10000],"range":[0,556],"nice":false,"zero":false},"axis":{"orient":"bottom","offset":0,"values":[2000,3000,4000,5000,6000,7000,8000,9000,10000],"format":"d","domain":false,"tickSize":5,"tickColor":"#333","tickWidth":1.2,"labelFont":"Liberation Sans","labelFontSize":22,"labelColor":"#000","labelPadding":9,"title":"m/z","titleFont":"Liberation Sans","titleFontSize":31,"titleFontWeight":"normal","titleColor":"#000","titlePadding":22}},
  "y":{"field":"i","type":"quantitative","scale":{"domain":[0,55000],"range":[1244,855],"nice":false,"zero":false},"axis":{"orient":"left","values":[0,10000,20000,30000,40000,50000],"labelExpr":"datum.value == 0 ? '0' : format(datum.value, '.0e')","domain":false,"tickSize":5,"tickColor":"#333","tickWidth":1.2,"labelFont":"Liberation Sans","labelFontSize":22,"labelColor":"#000","labelPadding":14,"title":"Intensity","titleFont":"Liberation Sans","titleFontSize":31,"titleFontWeight":"normal","titleColor":"#000","titlePadding":18}}}},
{"data":{"name":"triC"},"mark":{"type":"area","stroke":null,"fill":{"gradient":"linear","x1":0,"y1":1,"x2":1,"y2":0,"stops":[{"offset":0,"color":"rgba(160,160,160,0.5)"},{"offset":0.5,"color":"rgba(205,205,205,0.55)"},{"offset":1,"color":"rgba(255,255,255,0.8)"}]}},
 "encoding":{"x":{"field":"m","type":"quantitative","scale":{"domain":[1500,10000],"range":[0,556],"nice":false,"zero":false},"axis":null},"y":{"field":"i","type":"quantitative","scale":{"domain":[0,55000],"range":[1244,855],"nice":false,"zero":false},"axis":null},"y2":{"datum":0}}},
{"data":{"values":[{}]},"mark":{"type":"rect","filled":false,"color":"#333","strokeWidth":1.3},
 "encoding":{"x":{"datum":1500,"type":"quantitative","scale":{"domain":[1500,10000],"range":[0,556],"nice":false,"zero":false},"axis":null},"x2":{"datum":10000},"y":{"datum":0,"type":"quantitative","scale":{"domain":[0,55000],"range":[1244,855],"nice":false,"zero":false},"axis":null},"y2":{"datum":55000}}},
{"data":{"values":[{}]},"mark":{"type":"text","text":"Digest","font":"Liberation Sans","fontSize":27,"align":"right","baseline":"alphabetic","color":"#000"},
 "encoding":{"x":{"datum":9633,"type":"quantitative","scale":{"domain":[1500,10000],"range":[0,556],"nice":false,"zero":false},"axis":null},"y":{"datum":48355,"type":"quantitative","scale":{"domain":[0,55000],"range":[1244,855],"nice":false,"zero":false},"axis":null}}},
{"data":{"values":[{}]},"mark":{"type":"text","text":"c)","font":"Open Sans","fontSize":38,"align":"left","baseline":"alphabetic","color":"#000"},
 "encoding":{"x":{"datum":-870,"type":"quantitative","scale":{"domain":[1500,10000],"range":[0,556],"nice":false,"zero":false},"axis":null},"y":{"datum":46375,"type":"quantitative","scale":{"domain":[0,55000],"range":[1244,855],"nice":false,"zero":false},"axis":null}}},
{"data":{"values":[{}]},"mark":{"type":"rect","fill":"white","stroke":"#333","strokeWidth":1.2},
 "encoding":{"x":{"datum":2000,"type":"quantitative","scale":{"domain":[2000,5000],"range":[152,438],"nice":false,"zero":false},"axis":null},"x2":{"datum":5000},"y":{"datum":0,"type":"quantitative","scale":{"domain":[0,15000],"range":[1115,917],"nice":false,"zero":false},"axis":null},"y2":{"datum":15000}}},
{"data":{"name":"digest"},"transform":[{"filter":"datum.m >= 2000 && datum.m <= 5000"}],"mark":{"type":"line","color":"#000","strokeWidth":1.3},
 "encoding":{"x":{"field":"m","type":"quantitative","scale":{"domain":[2000,5000],"range":[152,438],"nice":false,"zero":false},"axis":{"orient":"bottom","offset":-129,"values":[2000,3000,4000,5000],"format":"d","domain":false,"tickSize":4,"tickColor":"#333","labelFont":"DejaVu Sans","labelFontSize":16,"labelColor":"#333","labelPadding":9,"title":null,"zindex":1}},
  "y":{"field":"i","type":"quantitative","scale":{"domain":[0,15000],"range":[1115,917],"nice":false,"zero":false,"clamp":true},"axis":{"orient":"left","offset":-152,"values":[0,3000,6000,9000,12000,15000],"format":"d","domain":false,"tickSize":4,"tickColor":"#333","labelFont":"DejaVu Sans","labelFontSize":16,"labelColor":"#333","labelPadding":3,"title":null,"zindex":1}}}}
],
"resolve":{"scale":{"x":"independent","y":"independent"}}
}
